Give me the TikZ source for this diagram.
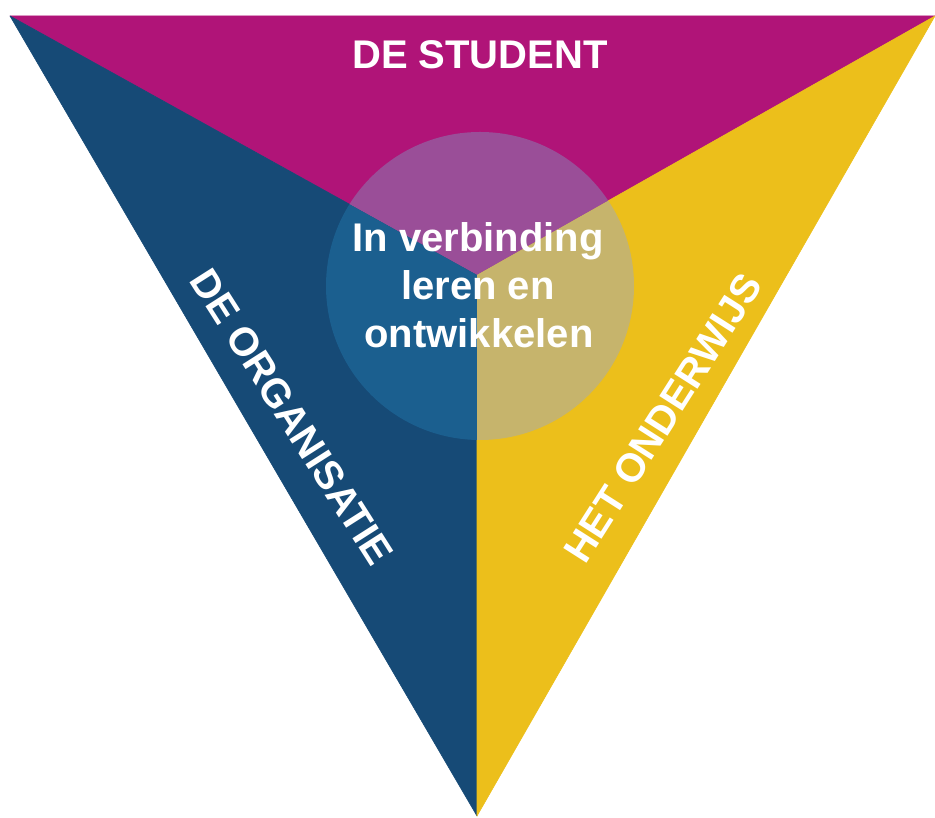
\documentclass[tikz,border=0pt]{standalone}
\usepackage{fontspec}
\setmainfont{Liberation Sans}
\definecolor{magC}{HTML}{B01478}
\definecolor{bluC}{HTML}{164A76}
\definecolor{yelC}{HTML}{ECBF1B}
\definecolor{magL}{HTML}{9A4E98}
\definecolor{bluL}{HTML}{1B5F8F}
\definecolor{yelL}{HTML}{C6B46C}
\begin{document}
\begin{tikzpicture}[x=1pt,y=1pt,
  lbl/.style={text=white,font=\fontsize{40}{48}\selectfont\bfseries,inner sep=0pt},
  sector/.style={fill=#1,draw=#1,line width=0.6pt,line join=round}]
\useasboundingbox (0,0) rectangle (935,818);
\coordinate (TL) at (10,802);
\coordinate (TR) at (935,802);
\coordinate (B) at (477,2);
\coordinate (C) at (477,543);
\coordinate (O) at (480,532);
\filldraw[sector=magC] (TL) -- (TR) -- (C) -- cycle;
\filldraw[sector=bluC] (TL) -- (C) -- (B) -- cycle;
\filldraw[sector=yelC] (TR) -- (B) -- (C) -- cycle;
\begin{scope}
  \clip (TL) -- (TR) -- (C) -- cycle;
  \fill[magL] (O) circle (154);
\end{scope}
\begin{scope}
  \clip (TL) -- (C) -- (B) -- cycle;
  \fill[bluL] (O) circle (154);
\end{scope}
\begin{scope}
  \clip (TR) -- (B) -- (C) -- cycle;
  \fill[yelL] (O) circle (154);
\end{scope}
\node[lbl] (student) at (480,763) {DE STUDENT};
\node[lbl,rotate=-57.5] (organisatie) at (292,401) {DE ORGANISATIE};
\node[lbl,rotate=57.5] (onderwijs) at (663,400) {HET ONDERWIJS};
\node[lbl,anchor=base] (l1) at (478,566) {In verbinding};
\node[lbl,anchor=base] (l2) at (478,518) {leren en};
\node[lbl,anchor=base] (l3) at (479,470) {ontwikkelen};
\end{tikzpicture}
\end{document}
